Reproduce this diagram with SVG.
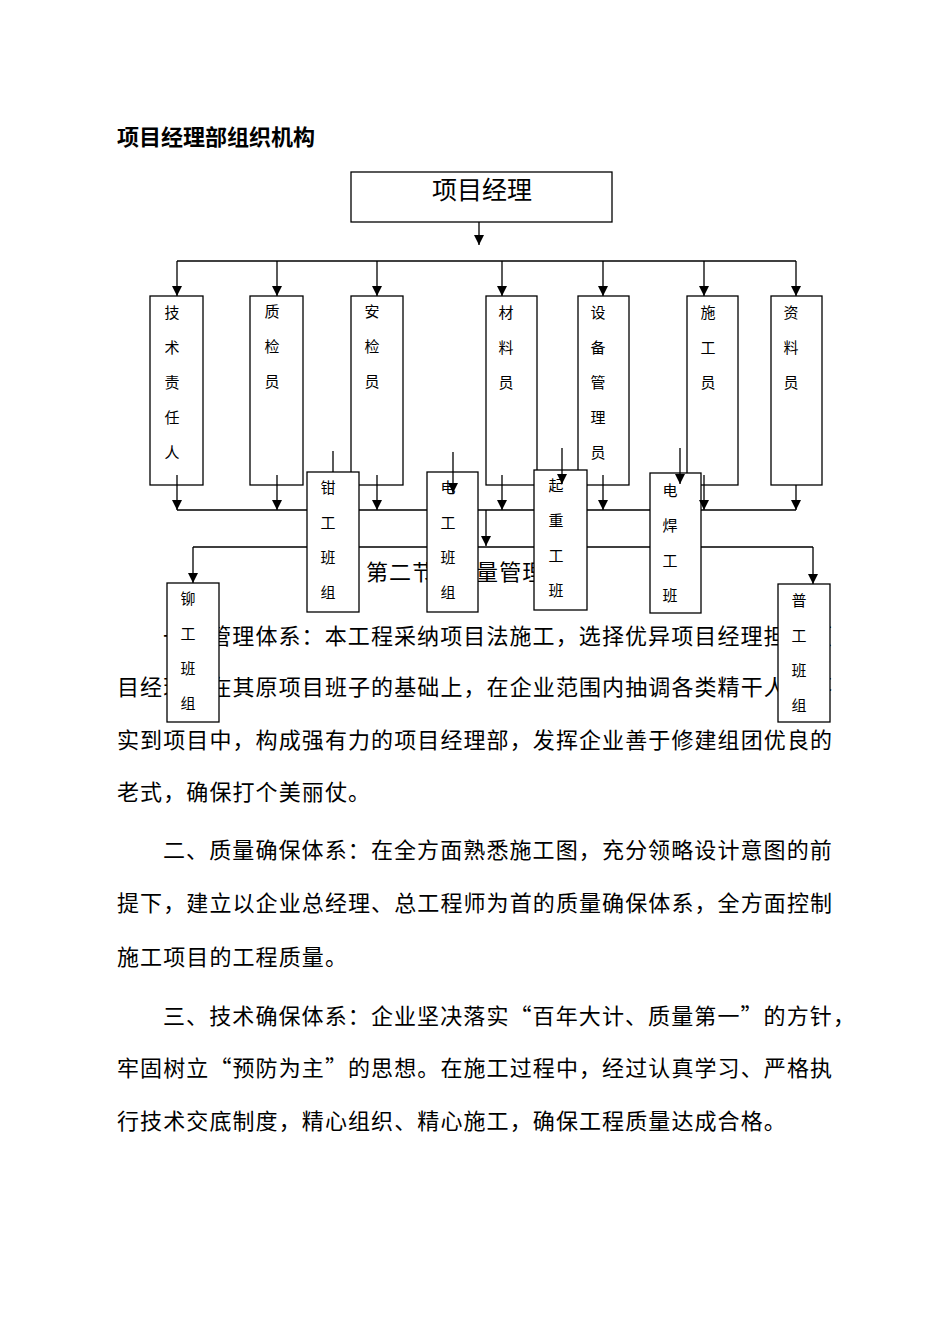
<svg xmlns="http://www.w3.org/2000/svg" width="950" height="1344" viewBox="0 0 950 1344">
<style>
text{font-family:"Noto Sans CJK SC","Noto Sans",sans-serif;fill:#000}
.title{font-size:22px;font-weight:bold}
.body{font-size:22px;letter-spacing:1.1px}
.lbl{font-size:15px;text-anchor:middle}
.big{font-size:25px;text-anchor:middle}
.box{fill:#fff;stroke:#000;stroke-width:1.3}
.ln{fill:none;stroke:#000;stroke-width:1.3}
</style>
<defs>
<marker id="ah" markerUnits="userSpaceOnUse" markerWidth="10" markerHeight="11" refX="10" refY="5" orient="auto" viewBox="0 0 10 10">
<path d="M0,0 L10,5 L0,10 z" fill="#000"/>
</marker>
</defs>
<rect width="950" height="1344" fill="#fff"/>
<text class="title" x="117" y="145">项目经理部组织机构</text>
<g id="body-text" class="body">
<text x="163" y="644">一、管理体系：本工程采纳项目法施工，选择优异项目经理担任项</text>
<text x="117" y="695">目经理，在其原项目班子的基础上，在企业范围内抽调各类精干人员落</text>
<text x="117" y="748">实到项目中，构成强有力的项目经理部，发挥企业善于修建组团优良的</text>
<text x="117" y="800">老式，确保打个美丽仗。</text>
<text x="163" y="858">二、质量确保体系：在全方面熟悉施工图，充分领略设计意图的前</text>
<text x="117" y="911">提下，建立以企业总经理、总工程师为首的质量确保体系，全方面控制</text>
<text x="117" y="965">施工项目的工程质量。</text>
<text x="163" y="1024">三、技术确保体系：企业坚决落实“百年大计、质量第一”的方针，</text>
<text x="117" y="1076">牢固树立“预防为主”的思想。在施工过程中，经过认真学习、严格执</text>
<text x="117" y="1129">行技术交底制度，精心组织、精心施工，确保工程质量达成合格。</text>
<text x="366" y="580">第二节</text>
<text x="453" y="580">质量管理</text>
</g>
<g id="n-pm"><rect class="box" x="351" y="172" width="261" height="50"/><text class="big" x="482" y="199">项目经理</text></g>
<g id="n-jishu"><rect class="box" x="150" y="296" width="53" height="189"/>
<text class="lbl" x="172" y="318">技</text><text class="lbl" x="172" y="353">术</text><text class="lbl" x="172" y="388">责</text><text class="lbl" x="172" y="423">任</text><text class="lbl" x="172" y="458">人</text></g>
<g id="n-zhijian"><rect class="box" x="250" y="296" width="53" height="189"/>
<text class="lbl" x="272" y="317">质</text><text class="lbl" x="272" y="352">检</text><text class="lbl" x="272" y="387">员</text></g>
<g id="n-anjian"><rect class="box" x="351" y="296" width="52" height="189"/>
<text class="lbl" x="372" y="317">安</text><text class="lbl" x="372" y="352">检</text><text class="lbl" x="372" y="387">员</text></g>
<g id="n-cailiao"><rect class="box" x="486" y="296" width="51" height="189"/>
<text class="lbl" x="506" y="318">材</text><text class="lbl" x="506" y="353">料</text><text class="lbl" x="506" y="388">员</text></g>
<g id="n-shebei"><rect class="box" x="578" y="296" width="51" height="189"/>
<text class="lbl" x="598" y="318">设</text><text class="lbl" x="598" y="353">备</text><text class="lbl" x="598" y="388">管</text><text class="lbl" x="598" y="423">理</text><text class="lbl" x="598" y="458">员</text></g>
<g id="n-shigong"><rect class="box" x="687" y="296" width="51" height="189"/>
<text class="lbl" x="708" y="318">施</text><text class="lbl" x="708" y="353">工</text><text class="lbl" x="708" y="388">员</text></g>
<g id="n-ziliao"><rect class="box" x="771" y="296" width="51" height="189"/>
<text class="lbl" x="791" y="318">资</text><text class="lbl" x="791" y="353">料</text><text class="lbl" x="791" y="388">员</text></g>
<g id="n-qian"><rect class="box" x="307" y="472" width="52" height="140"/>
<text class="lbl" x="328" y="493">钳</text><text class="lbl" x="328" y="528">工</text><text class="lbl" x="328" y="563">班</text><text class="lbl" x="328" y="598">组</text></g>
<g id="n-diangong"><rect class="box" x="427" y="472" width="51" height="140"/>
<text class="lbl" x="448" y="493">电</text><text class="lbl" x="448" y="528">工</text><text class="lbl" x="448" y="563">班</text><text class="lbl" x="448" y="598">组</text></g>
<g id="n-qizhong"><rect class="box" x="534" y="470" width="53" height="140"/>
<text class="lbl" x="556" y="491">起</text><text class="lbl" x="556" y="526">重</text><text class="lbl" x="556" y="561">工</text><text class="lbl" x="556" y="596">班</text></g>
<g id="n-diahan"><rect class="box" x="650" y="473" width="51" height="140"/>
<text class="lbl" x="670" y="496">电</text><text class="lbl" x="670" y="531">焊</text><text class="lbl" x="670" y="566">工</text><text class="lbl" x="670" y="601">班</text></g>
<g id="n-mao"><rect class="box" x="167" y="583" width="52" height="139"/>
<text class="lbl" x="188" y="604">铆</text><text class="lbl" x="188" y="639">工</text><text class="lbl" x="188" y="674">班</text><text class="lbl" x="188" y="709">组</text></g>
<g id="n-pu"><rect class="box" x="778" y="584" width="52" height="138"/>
<text class="lbl" x="799" y="606">普</text><text class="lbl" x="799" y="641">工</text><text class="lbl" x="799" y="676">班</text><text class="lbl" x="799" y="711">组</text></g>
<g id="connectors" class="ln">
<line x1="479" y1="222" x2="479" y2="245" marker-end="url(#ah)"/>
<line x1="177" y1="261" x2="796" y2="261"/>
<line x1="177" y1="261" x2="177" y2="296" marker-end="url(#ah)"/>
<line x1="277" y1="261" x2="277" y2="296" marker-end="url(#ah)"/>
<line x1="377" y1="261" x2="377" y2="296" marker-end="url(#ah)"/>
<line x1="502" y1="261" x2="502" y2="296" marker-end="url(#ah)"/>
<line x1="603" y1="261" x2="603" y2="296" marker-end="url(#ah)"/>
<line x1="704" y1="261" x2="704" y2="296" marker-end="url(#ah)"/>
<line x1="796" y1="261" x2="796" y2="296" marker-end="url(#ah)"/>
<line x1="177" y1="475" x2="177" y2="510" marker-end="url(#ah)"/>
<line x1="277" y1="475" x2="277" y2="510" marker-end="url(#ah)"/>
<line x1="377" y1="475" x2="377" y2="510" marker-end="url(#ah)"/>
<line x1="502" y1="475" x2="502" y2="510" marker-end="url(#ah)"/>
<line x1="603" y1="475" x2="603" y2="510" marker-end="url(#ah)"/>
<line x1="704" y1="475" x2="704" y2="510" marker-end="url(#ah)"/>
<line x1="796" y1="485" x2="796" y2="510" marker-end="url(#ah)"/>
<path d="M177,510 H307 M359,510 H427 M478,510 H534 M587,510 H650 M701,510 H796"/>
<line x1="333" y1="451" x2="333" y2="472"/>
<line x1="453" y1="452" x2="453" y2="493" marker-end="url(#ah)"/>
<line x1="562" y1="448" x2="562" y2="484" marker-end="url(#ah)"/>
<line x1="680" y1="448" x2="680" y2="484" marker-end="url(#ah)"/>
<line x1="486" y1="510" x2="486" y2="546" marker-end="url(#ah)"/>
<path d="M193,547 H307 M359,547 H427 M478,547 H534 M587,547 H650 M701,547 H813"/>
<line x1="193" y1="547" x2="193" y2="583" marker-end="url(#ah)"/>
<line x1="813" y1="547" x2="813" y2="584" marker-end="url(#ah)"/>
</g>
</svg>
